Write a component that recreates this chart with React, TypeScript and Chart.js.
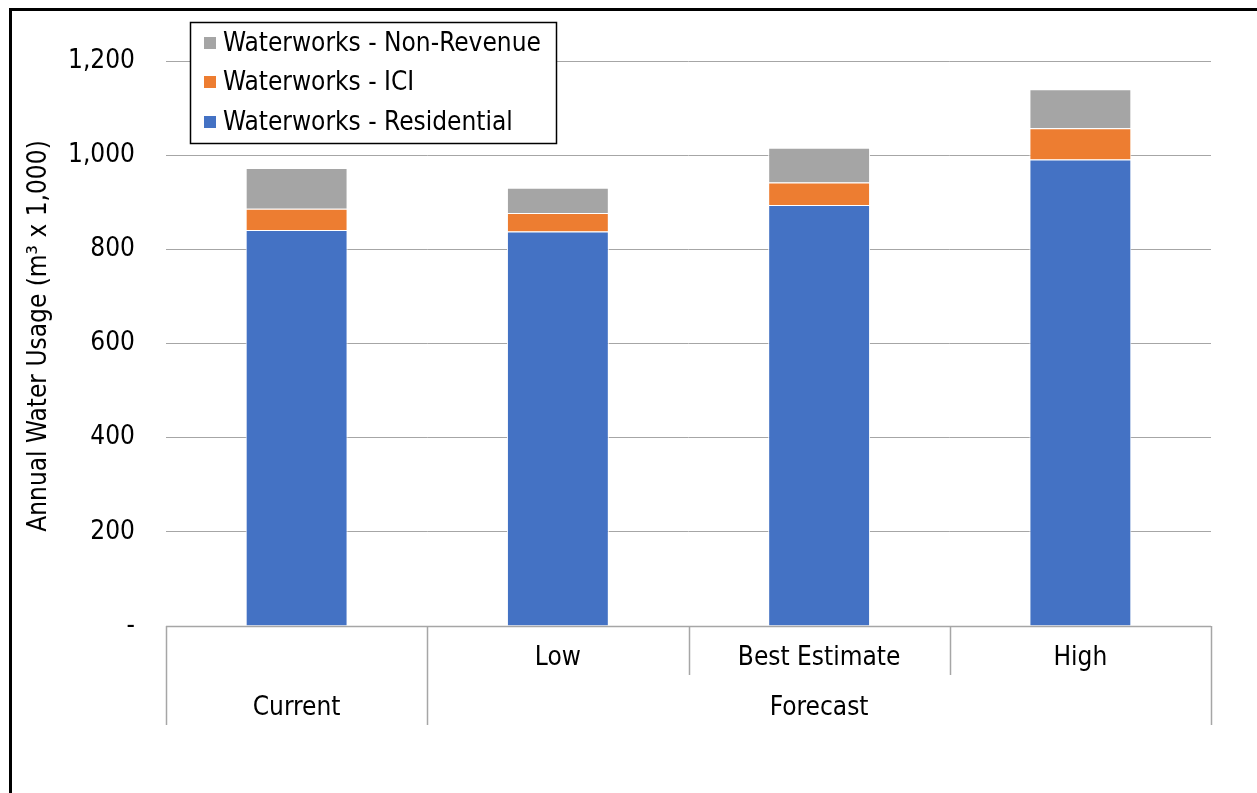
import React, { useEffect, useRef } from "react";
import { Chart, registerables } from "chart.js";

Chart.register(...registerables);

const categories = ["Current", "Low", "Best Estimate", "High"];
const subLabels = ["", "Low", "Best Estimate", "High"];
const groupLabels = ["Current", "Forecast"];
const groupSpans = [1, 3];

const residential = [841, 838, 894, 991];
const ici = [45, 39, 48, 66];
const nonRevenue = [87, 54, 74, 83];

const seriesNames = ["Waterworks - Residential", "Waterworks - ICI", "Waterworks - Non-Revenue"];
const seriesColors = ["#4472C4", "#ED7D31", "#A5A5A5"];

const yTickValues = [0, 200, 400, 600, 800, 1000, 1200];
const yTitle = "Annual Water Usage (m\u00B3 x 1,000)";

const FONT_FAMILY = "'DejaVu Sans Condensed', 'DejaVu Sans', sans-serif";
const FONT_SIZE = 26;
const GRID = "#A6A6A6";
const W = 1257;
const H = 793;

const customPlugin = {
  id: "customDecor",
  beforeDraw(chart: any) {
    const ctx = chart.ctx;
    ctx.save();
    ctx.fillStyle = "#ffffff";
    ctx.fillRect(0, 0, chart.width, chart.height);
    ctx.strokeStyle = "#000000";
    ctx.lineWidth = 3;
    ctx.beginPath();
    ctx.moveTo(chart.width + 10, 9.5);
    ctx.lineTo(10.5, 9.5);
    ctx.lineTo(10.5, chart.height + 10);
    ctx.stroke();
    ctx.restore();
  },
  afterDraw(chart: any) {
    const ctx = chart.ctx;
    const area = chart.chartArea;
    const x = chart.scales.x;
    const n = categories.length;
    const bounds: number[] = [];
    for (let i = 0; i <= n; i++) {
      if (i === 0) bounds.push(area.left);
      else if (i === n) bounds.push(area.right);
      else bounds.push((x.getPixelForValue(i - 1) + x.getPixelForValue(i)) / 2);
    }
    const row1Bottom = area.bottom + 49;
    const row2Bottom = area.bottom + 99;
    ctx.save();
    // y title
    ctx.save();
    ctx.translate(39, 336);
    ctx.rotate(-Math.PI / 2);
    ctx.font = `${FONT_SIZE}px ${FONT_FAMILY}`;
    const tw = ctx.measureText(yTitle).width;
    const target = 387;
    if (tw < target - 4 && "letterSpacing" in ctx) {
      (ctx as any).letterSpacing = `${((target - tw) / yTitle.length).toFixed(2)}px`;
    }
    ctx.fillStyle = "#000000";
    ctx.textAlign = "center";
    ctx.textBaseline = "middle";
    ctx.fillText(yTitle, 0, 0);
    ctx.restore();
    // axis line
    ctx.strokeStyle = GRID;
    ctx.lineWidth = 1.5;
    ctx.beginPath();
    ctx.moveTo(area.left, area.bottom + 0.5);
    ctx.lineTo(area.right, area.bottom + 0.5);
    ctx.stroke();
    // group boundaries
    const groupEdges = new Set<number>([0]);
    let acc = 0;
    groupSpans.forEach((s) => {
      acc += s;
      groupEdges.add(acc);
    });
    for (let i = 0; i <= n; i++) {
      const bx = Math.round(bounds[i]) + 0.5;
      ctx.beginPath();
      ctx.moveTo(bx, area.bottom);
      ctx.lineTo(bx, groupEdges.has(i) ? row2Bottom : row1Bottom);
      ctx.stroke();
    }
    // labels
    ctx.fillStyle = "#000000";
    ctx.font = `${FONT_SIZE}px ${FONT_FAMILY}`;
    ctx.textAlign = "center";
    ctx.textBaseline = "middle";
    subLabels.forEach((lab, i) => {
      if (lab) ctx.fillText(lab, x.getPixelForValue(i), area.bottom + 32);
    });
    let start = 0;
    groupLabels.forEach((lab, gi) => {
      const end = start + groupSpans[gi];
      const cx = (bounds[start] + bounds[end]) / 2;
      ctx.fillText(lab, cx, area.bottom + 82);
      start = end;
    });
    // legend
    const lx = 190.5, ly = 22.5, lw = 366, lh = 121;
    ctx.fillStyle = "#ffffff";
    ctx.fillRect(lx, ly, lw, lh);
    ctx.strokeStyle = "#000000";
    ctx.lineWidth = 1.5;
    ctx.strokeRect(lx, ly, lw, lh);
    const rowY = [43, 82, 122];
    const order = [2, 1, 0];
    ctx.textAlign = "left";
    order.forEach((si, r) => {
      ctx.fillStyle = seriesColors[si];
      ctx.fillRect(204, rowY[r] - 6, 12, 12);
      ctx.fillStyle = "#000000";
      ctx.fillText(seriesNames[si], 223, rowY[r] + 1);
    });
    ctx.restore();
  },
};

export default function App() {
  const ref = useRef<HTMLCanvasElement>(null);
  useEffect(() => {
    if (!ref.current) return;
    const values = [residential, ici, nonRevenue];
    const chart = new Chart(ref.current, {
      type: "bar",
      data: {
        labels: categories,
        datasets: values.map((v, i) => ({
          label: seriesNames[i],
          data: v,
          backgroundColor: seriesColors[i],
          borderColor: "#ffffff",
          borderWidth: 1,
          categoryPercentage: 1,
          barPercentage: 0.39,
        })),
      },
      options: {
        animation: false,
        responsive: false,
        maintainAspectRatio: false,
        layout: { padding: { left: 0, right: 46, top: 61, bottom: 167 } },
        plugins: { legend: { display: false }, tooltip: { enabled: false } },
        scales: {
          x: {
            stacked: true,
            display: false,
          },
          y: {
            stacked: true,
            min: 0,
            max: 1200,
            afterFit: (scale: any) => {
              scale.width = 166;
            },
            afterBuildTicks: (scale: any) => {
              scale.ticks = yTickValues.map((v) => ({ value: v }));
            },
            border: { display: false },
            grid: { color: GRID, lineWidth: 1, drawTicks: false },
            ticks: {
              padding: 31,
              color: "#000000",
              font: { family: FONT_FAMILY, size: FONT_SIZE },
              callback: (v: any) => (Number(v) === 0 ? "-" : Number(v).toLocaleString("en-US")),
            },
            title: { display: false },
          },
        },
      },
      plugins: [customPlugin],
    });
    return () => chart.destroy();
  }, []);
  return (
    <div style={{ position: "fixed", left: 0, top: 0, width: W, height: H, overflow: "hidden" }}>
      <canvas ref={ref} width={W} height={H} style={{ display: "block" }} />
    </div>
  );
}
